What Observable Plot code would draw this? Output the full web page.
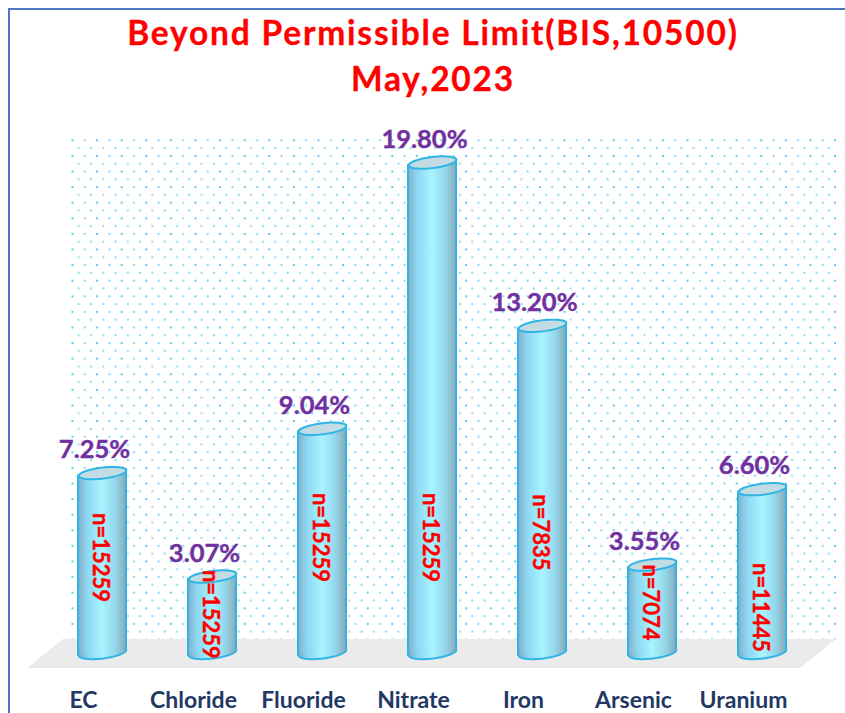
<!DOCTYPE html>
<html>
<head>
<meta charset="utf-8">
<script src="https://cdn.jsdelivr.net/npm/d3@7"></script>
<script src="https://cdn.jsdelivr.net/npm/@observablehq/plot@0.6"></script>
<style>
html,body{margin:0;padding:0;background:#fff;}
#page{position:relative;width:845px;height:713px;overflow:hidden;font-family:Lato,sans-serif;}
#edge{position:absolute;left:8px;top:8px;width:845px;height:713px;border-left:2.5px solid #4a76c6;border-top:2px solid #4a76c6;box-sizing:border-box;}
#title{position:absolute;left:8px;width:850px;top:9px;text-align:center;color:#ff0000;font-weight:700;font-size:33.5px;line-height:46px;letter-spacing:1.8px;-webkit-text-stroke:0.3px #ff0000;}
#chart{position:absolute;left:0;top:110px;}
.cyl rect{transform-box:fill-box;transform-origin:center;transform:skewY(-7deg);}
.floor,.floor rect{transform-box:fill-box;transform-origin:center;transform:skewX(-51deg);}
</style>
</head>
<body>
<div id="page">
  <div id="edge"></div>
  <div id="title">Beyond Permissible Limit(BIS,10500)<br>May,2023</div>
  <div id="chart"></div>
</div>
<script>
const categories = ["EC", "Chloride", "Fluoride", "Nitrate", "Iron", "Arsenic", "Uranium"];
const percentages = [7.25, 3.07, 9.04, 19.80, 13.20, 3.55, 6.60];
const sampleSizes = [15259, 15259, 15259, 15259, 7835, 7074, 11445];
const sampleLabelHeights = [3.84, 1.54, 4.65, 4.65, 4.85, 2.02, 1.82];

const rows = categories.map((name, i) => ({
  name,
  pct: percentages[i],
  n: sampleSizes[i],
  at: sampleLabelHeights[i]
}));

function tilted(a, b, deg, from, to, close) {
  const th = deg * Math.PI / 180, c = Math.cos(th), s = Math.sin(th);
  const pt = t => {
    const x = a * Math.cos(t), y = b * Math.sin(t);
    return [x * c - y * s, x * s + y * c];
  };
  return {
    draw(ctx) {
      const steps = 48;
      for (let k = 0; k <= steps; k++) {
        const [x, y] = pt(from + (to - from) * k / steps);
        if (k === 0) ctx.moveTo(x, y); else ctx.lineTo(x, y);
      }
      if (close) ctx.closePath();
    }
  };
}
const topCap = tilted(24, 5.5, -7, 0, 2 * Math.PI, true);
const bottomFill = tilted(23.2, 6, -7, 0, 2 * Math.PI, true);
const bottomArc = tilted(24, 6, -7, Math.PI, 0, false);

const defs = () => {
  const d = document.createElementNS("http://www.w3.org/2000/svg", "defs");
  d.innerHTML = `
    <linearGradient id="cylFill" x1="0" x2="1" y1="0" y2="0">
      <stop offset="0" stop-color="#86aec4"/>
      <stop offset="0.18" stop-color="#8cd6f2"/>
      <stop offset="0.5" stop-color="#a8f4ff"/>
      <stop offset="0.78" stop-color="#93d6ea"/>
      <stop offset="1" stop-color="#8aa9b8"/>
    </linearGradient>
    <pattern id="dots" patternUnits="userSpaceOnUse" x="68" y="137" width="24.6" height="15.6">
      <circle cx="4" cy="2" r="1.1" fill="#45bfec"/>
      <circle cx="16.3" cy="2" r="1.1" fill="#72d0f1"/>
      <circle cx="10.15" cy="9.8" r="1.2" fill="#9bdff5"/>
      <circle cx="22.45" cy="9.8" r="1.2" fill="#8ddaf4"/>
    </pattern>`;
  return d;
};

const labelFont = "Lato, sans-serif";
const plot = Plot.plot({
  width: 845,
  height: 603,
  marginLeft: 45,
  marginRight: 27,
  marginTop: 27,
  marginBottom: 45,
  style: {background: "transparent", overflow: "visible"},
  x: {domain: categories, paddingInner: 0.565, paddingOuter: 0.2825, label: null},
  y: {domain: [-0.646, 20.81], axis: null},
  marks: [
    defs,
    Plot.frame({fill: "url(#dots)", stroke: "none", insetLeft: 23, insetRight: -20, insetBottom: 29}),
    Plot.frame({fill: "#ebebeb", stroke: "none", insetTop: 502, className: "floor"}),
    Plot.barY(rows, {x: "name", y1: 0, y2: "pct", fill: "url(#cylFill)", stroke: "#2fb4e6", strokeWidth: 2, className: "cyl"}),
    Plot.dot(rows, {x: "name", y: () => 0, r: 1, symbol: bottomFill, fill: "url(#cylFill)", stroke: "none"}),
    Plot.dot(rows, {x: "name", y: () => 0, r: 1, symbol: bottomArc, fill: "none", stroke: "#2fb4e6", strokeWidth: 2}),
    Plot.dot(rows, {x: "name", y: "pct", r: 1, symbol: topCap, fill: "#c3dbe3", stroke: "#2fb4e6", strokeWidth: 2}),
    Plot.text(rows, {x: "name", y: "pct", dx: -8, dy: -23, text: d => d.pct.toFixed(2) + "%", fill: "#7030a0", stroke: "#7030a0", strokeWidth: 0.4, fontWeight: 700, fontSize: 25.5, fontFamily: labelFont}),
    Plot.text(rows, {x: "name", y: "at", dx: -2, rotate: 90, text: d => "n=" + d.n, fill: "#ff0000", stroke: "#ff0000", strokeWidth: 0.4, fontWeight: 700, fontSize: 22, fontFamily: labelFont}),
    Plot.axisX({anchor: "bottom", tickSize: 0, tickPadding: 23, dx: -19, label: null, fill: "#1f3864", stroke: "#1f3864", strokeWidth: 0.3, fontWeight: 700, fontSize: 23, fontFamily: labelFont})
  ]
});
document.getElementById("chart").appendChild(plot);
</script>
</body>
</html>
